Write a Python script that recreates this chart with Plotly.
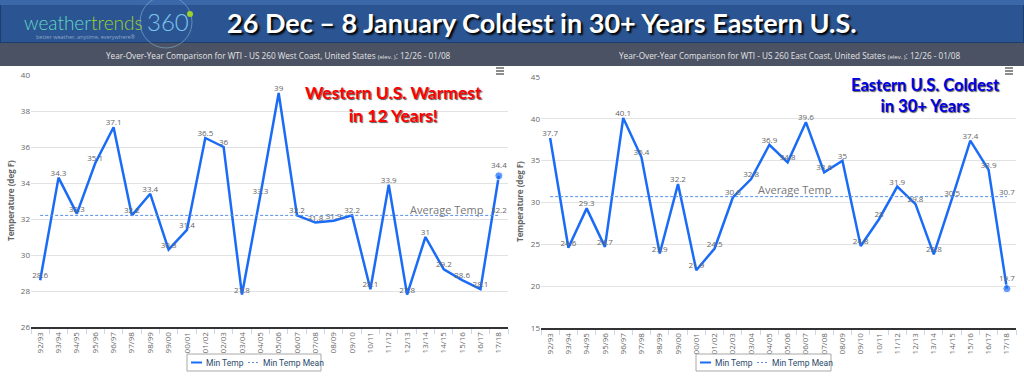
import plotly.graph_objects as go

W, H = 1024, 379

seasons = ["92/93", "93/94", "94/95", "95/96", "96/97", "97/98", "98/99", "99/00",
           "00/01", "01/02", "02/03", "03/04", "04/05", "05/06", "06/07", "07/08",
           "08/09", "09/10", "10/11", "11/12", "12/13", "13/14", "14/15", "15/16",
           "16/17", "17/18"]

west_min = [28.6, 34.3, 32.3, 35.1, 37.1, 32.2, 33.4, 30.3, 31.4, 36.5, 36.0, 27.8, 33.3,
            39.0, 32.2, 31.8, 31.9, 32.2, 28.1, 33.9, 27.8, 31.0, 29.2, 28.6, 28.1, 34.4]
west_mean = 32.2

east_min = [37.7, 24.6, 29.3, 24.7, 40.1, 35.4, 23.9, 32.2, 21.9, 24.5, 30.6, 32.8, 36.9,
            34.8, 39.6, 33.6, 35.0, 24.8, 28.0, 31.9, 29.8, 23.8, 30.5, 37.4, 33.9, 19.7]
east_mean = 30.7

west_ticks = [26, 28, 30, 32, 34, 36, 38, 40]
east_ticks = [15, 20, 25, 30, 35, 40, 45]

LINE = "#1a6cf7"
MEAN = "#5b8fe3"
LBL = "#666666"
FONT = "Open Sans"


def px(x):
    return x / W


def py(y):
    return 1 - y / H


def fmt(v):
    return ("%g" % v)


fig = go.Figure()

for vals, mean, xa, ya in [(west_min, west_mean, "x", "y"),
                           (east_min, east_mean, "x2", "y2")]:
    n = len(vals)
    fig.add_trace(go.Scatter(
        x=seasons, y=vals, name="Min Temp", mode="lines+markers+text",
        line=dict(color=LINE, width=2.5),
        marker=dict(size=[0] * (n - 1) + [8], color=LINE),
        text=[fmt(v) for v in vals], textposition="top center",
        textfont=dict(size=8, color=LBL, family=FONT),
        xaxis=xa, yaxis=ya, showlegend=False, cliponaxis=False))
    fig.add_trace(go.Scatter(
        x=seasons, y=[mean] * n, name="Min Temp Mean", mode="lines+text",
        line=dict(color=MEAN, width=1, dash="3px,2px"),
        text=[""] * (n - 1) + [fmt(mean)], textposition="top center",
        textfont=dict(size=8, color=LBL, family=FONT),
        xaxis=xa, yaxis=ya, showlegend=False, cliponaxis=False))

xcommon = dict(type="category", range=[-0.5, 25.5], tickangle=-90,
               tickfont=dict(size=8, color=LBL, family=FONT),
               showgrid=False, showline=True, linecolor="#333333", linewidth=2,
               ticks="outside", tickson="boundaries", ticklen=5, tickcolor="#ccd6eb",
               fixedrange=True, automargin=False)
ycommon = dict(showgrid=True, gridcolor="#e2e2e2", gridwidth=1, zeroline=False,
               tickfont=dict(size=8, color=LBL, family=FONT), ticks="",
               showline=False, fixedrange=True, automargin=False)

fig.update_layout(
    width=W, height=H, margin=dict(l=0, r=0, t=0, b=0, autoexpand=False),
    paper_bgcolor="white", plot_bgcolor="white", showlegend=False,
    xaxis=dict(domain=[px(31), px(508)], anchor="y", **xcommon),
    yaxis=dict(domain=[py(327), py(75)], anchor="x", range=[26, 40],
               tickvals=west_ticks, **ycommon),
    xaxis2=dict(domain=[px(541), px(1016)], anchor="y2", **xcommon),
    yaxis2=dict(domain=[py(328), py(77)], anchor="x2", range=[15, 45],
                tickvals=east_ticks, **ycommon),
)

shapes = [
    # banner
    dict(type="rect", xref="paper", yref="paper", x0=0, x1=1, y0=py(43), y1=1,
         fillcolor="#2b5592", line=dict(color="#1d3d6e", width=2), layer="below"),
    dict(type="rect", xref="paper", yref="paper", x0=0, x1=1, y0=py(5), y1=1,
         fillcolor="#3a68a8", line=dict(width=0), layer="below"),
    # subtitle strip
    dict(type="rect", xref="paper", yref="paper", x0=0, x1=1, y0=py(66), y1=py(43),
         fillcolor="#4a5263", line=dict(width=0), layer="below"),
    # logo circle
    dict(type="circle", xref="paper", yref="paper", x0=px(140), x1=px(192),
         y0=py(48), y1=py(-4), line=dict(color="rgba(150,200,230,0.5)", width=1),
         fillcolor="rgba(0,0,0,0)"),
    dict(type="circle", xref="paper", yref="paper", x0=px(187), x1=px(193),
         y0=py(17), y1=py(11), line=dict(width=0), fillcolor="#9bd22c"),
]
# hamburger icons
for cx in (500, 1009):
    for dy in (68, 71, 74):
        shapes.append(dict(type="line", xref="paper", yref="paper",
                           x0=px(cx - 4), x1=px(cx + 4), y0=py(dy), y1=py(dy),
                           line=dict(color="#666666", width=1.5)))

ann = []
# custom compact legends
LEG_Y = 362.5
for bx0, bx1, l1, t1, l2, t2 in [(187, 321, 191, 204, 248, 261),
                                 (696, 831, 700, 713, 757, 770)]:
    x0, x1, y0, y1 = px(bx0), px(bx1), py(371), py(354)
    shapes.append(dict(type="rect", xref="paper", yref="paper", x0=x0, x1=x1,
                       y0=y0, y1=y1, line=dict(color="#a8a8a8", width=1),
                       fillcolor="white"))
    shapes.append(dict(type="line", xref="paper", yref="paper", x0=px(l1), x1=px(l1 + 11),
                       y0=py(LEG_Y), y1=py(LEG_Y), line=dict(color=LINE, width=2)))
    shapes.append(dict(type="line", xref="paper", yref="paper", x0=px(l2), x1=px(l2 + 11),
                       y0=py(LEG_Y), y1=py(LEG_Y),
                       line=dict(color=MEAN, width=1, dash="2px,2px")))
    ann.append(dict(text="Min Temp", x=px(t1), y=py(LEG_Y), xanchor="left",
                    font=dict(size=8.5, family="Roboto", color="#2c4a6e")))
    ann.append(dict(text="Min Temp Mean", x=px(t2), y=py(LEG_Y), xanchor="left",
                    font=dict(size=8.5, family="Roboto", color="#2c4a6e")))

fig.update_layout(shapes=shapes)

ann += [
    dict(text="26 Dec \u2013 8 January Coldest in 30+ Years Eastern U.S.",
         x=px(542), y=py(22), font=dict(size=27, color="white", family="Lato",
                                        weight="bold", shadow="2px 2px 2px #000000")),
    dict(text="<span style='color:#62d6c4'>weather</span><span style='color:#9ccf2e'>trends</span>",
         x=px(145), y=py(22), xanchor="right", font=dict(size=19, family="Lato", weight=300)),
    dict(text="360", x=px(145), y=py(21), xanchor="left",
         font=dict(size=24, family="Lato", weight=300, color="#7cc5ee")),
    dict(text="better weather, anytime, everywhere\u00ae", x=px(86), y=py(37),
         font=dict(size=5.5, family=FONT, color="#8fa6c8")),
    dict(text="Year-Over-Year Comparison for WTI - US 260 West Coast, United States "
              "<span style='font-size:6px'>(elev. )</span>: 12/26 - 01/08",
         x=px(278), y=py(56), font=dict(size=8.2, family=FONT, color="#e4e4e4")),
    dict(text="Year-Over-Year Comparison for WTI - US 260 East Coast, United States "
              "<span style='font-size:6px'>(elev. )</span>: 12/26 - 01/08",
         x=px(790), y=py(56), font=dict(size=8.2, family=FONT, color="#e4e4e4")),
    dict(text="Western U.S. Warmest<br>in 12 Years!", x=px(393), y=py(104),
         font=dict(size=17.5, family="Lato", weight="bold", color="#ff0000",
                   shadow="1px 1px 1px #555555")),
    dict(text="Eastern U.S. Coldest<br>in 30+ Years", x=px(925), y=py(95),
         font=dict(size=16.5, family="Lato", weight="bold", color="#0000e6",
                   shadow="1px 1px 1px #555555")),
    dict(text="Average Temp", x=px(447), y=py(209),
         font=dict(size=11, family=FONT, color="#777777")),
    dict(text="Average Temp", x=px(795), y=py(189),
         font=dict(size=11, family=FONT, color="#777777")),
    dict(text="Temperature (deg F)", x=px(10), y=py(201), textangle=-90,
         font=dict(size=8, family=FONT, color=LBL, weight="bold")),
    dict(text="Temperature (deg F)", x=px(519), y=py(202), textangle=-90,
         font=dict(size=8, family=FONT, color=LBL, weight="bold")),
]
for a in ann:
    a.setdefault("xanchor", "center")
    a.update(xref="paper", yref="paper", showarrow=False, yanchor="middle")
fig.update_layout(annotations=ann)

fig.write_html("out.html", config={"displayModeBar": False},
               post_script="document.body.style.margin='0';"
                           "document.body.style.overflow='hidden';")
